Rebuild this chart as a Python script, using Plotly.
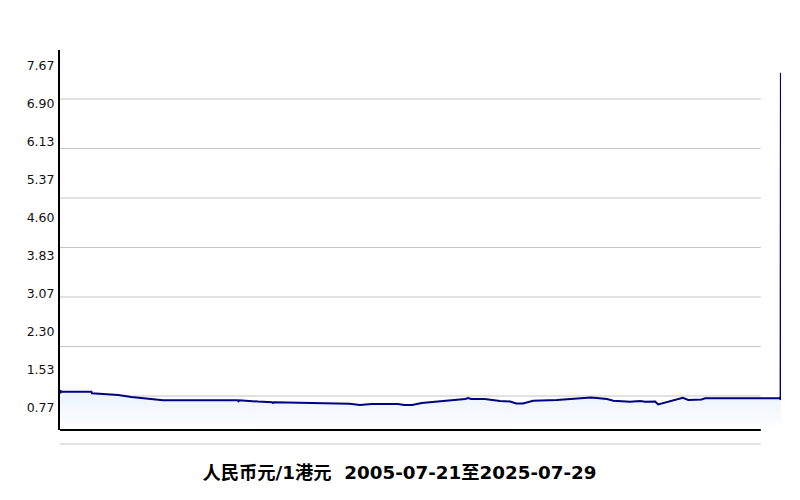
import plotly.graph_objects as go

# ---- data ----
dates = [
    "2005-07-21", "2006-06-05", "2006-06-10", "2007-03-03", "2007-07-15",
    "2007-11-28", "2008-03-10", "2008-06-01", "2010-06-25", "2010-07-05",
    "2010-07-12", "2010-09-26", "2011-01-20", "2011-06-10", "2011-06-20",
    "2011-07-01", "2012-03-20", "2012-12-20", "2013-08-07", "2013-11-18",
    "2014-03-15", "2014-12-10", "2015-02-10", "2015-05-01", "2015-08-07",
    "2015-12-20", "2016-06-05", "2016-10-20", "2016-11-20", "2016-12-20",
    "2017-05-08", "2017-08-20", "2017-10-08", "2018-01-20", "2018-03-22",
    "2018-05-30", "2018-09-10", "2019-05-08", "2019-08-20", "2020-01-30",
    "2020-04-20", "2020-09-28", "2020-12-01", "2021-05-20", "2021-08-30",
    "2021-10-20", "2022-01-30", "2022-03-01", "2022-05-01", "2022-09-20",
    "2022-11-06", "2023-01-01", "2023-05-15", "2023-06-20", "2023-12-08",
    "2024-01-10", "2024-06-28", "2024-07-30", "2025-07-25", "2025-07-28",
    "2025-07-29",
]
rates = [
    1.087, 1.087, 1.055, 1.020, 0.980,
    0.953, 0.925, 0.913, 0.913, 0.895,
    0.913, 0.900, 0.887, 0.875, 0.860,
    0.875, 0.860, 0.855, 0.845, 0.820,
    0.840, 0.840, 0.820, 0.820, 0.860,
    0.885, 0.913, 0.940, 0.960, 0.940,
    0.940, 0.905, 0.900, 0.890, 0.850,
    0.850, 0.905, 0.919, 0.933, 0.945,
    0.970, 0.940, 0.905, 0.885, 0.900,
    0.885, 0.890, 0.830, 0.860, 0.940,
    0.965, 0.920, 0.930, 0.953, 0.953,
    0.940, 0.940, 0.953, 0.953, 7.530,
    0.953,
]
tick_values = [0.7665, 1.533, 2.2995, 3.066, 3.8325, 4.599, 5.3655, 6.132, 6.8985, 7.665]
tick_labels = ["0.77", "1.53", "2.30", "3.07", "3.83", "4.60", "5.37", "6.13", "6.90", "7.67"]
grid_values = [1, 2, 3, 4, 5, 6, 7]
title_text = "人民币元/1港元\u00a0 2005-07-21至2025-07-29"

Y_MIN, Y_MAX = 0.313, 7.99
GRID_END = 0.972  # fraction of plot width where gridlines stop

fig = go.Figure()
fig.add_trace(go.Scatter(
    x=dates, y=rates, mode="lines",
    line=dict(color="#000080", width=2),
    fill="tozeroy",
    fillgradient=dict(type="vertical",
                      colorscale=[[0, "rgb(255,255,255)"], [1, "rgb(236,244,252)"]],
                      start=Y_MIN, stop=1.0),
    hoverinfo="skip", showlegend=False,
))
fig.add_trace(go.Scatter(
    x=[dates[0], dates[-1]], y=[rates[0], rates[-1]], mode="markers",
    marker=dict(color="#000080", size=4), showlegend=False, hoverinfo="skip",
))

shapes = []
for g in grid_values:
    shapes.append(dict(type="line", xref="paper", yref="y", x0=0, x1=GRID_END, y0=g, y1=g,
                       line=dict(color="#c4c4c4", width=1), layer="below"))
# bottom axis line
shapes.append(dict(type="line", xref="paper", yref="paper", x0=0, x1=GRID_END, y0=0, y1=0,
                   line=dict(color="#000000", width=2)))
# lower grey line below the axis
shapes.append(dict(type="line", xref="paper", yref="paper", x0=0, x1=GRID_END, y0=-0.0368, y1=-0.0368,
                   line=dict(color="#c4c4c4", width=1)))

# the page body adds an 8px offset, so the figure is 792x492 with shifted margins
fig.update_layout(
    width=792, height=492,
    margin=dict(l=52, r=19, t=42, b=70),
    paper_bgcolor="white", plot_bgcolor="white",
    shapes=shapes,
    title=dict(text=title_text, x=0.4943, xanchor="center", xref="container",
               y=0.055, yanchor="middle",
               font=dict(family="DejaVu Sans, Noto Sans CJK SC", size=18.3, color="#000000", weight="bold")),
    xaxis=dict(range=["2005-07-21", "2025-07-29"], showgrid=False, zeroline=False,
               showline=False, showticklabels=False, ticks=""),
    yaxis=dict(range=[Y_MIN, Y_MAX], tickvals=tick_values, ticktext=tick_labels,
               showgrid=False, zeroline=False, showline=True, linecolor="#000000", linewidth=2,
               ticks="", ticklabelstandoff=1,
               tickfont=dict(family="DejaVu Sans", size=12.5, color="#111111")),
)

fig.write_html("out.html")
